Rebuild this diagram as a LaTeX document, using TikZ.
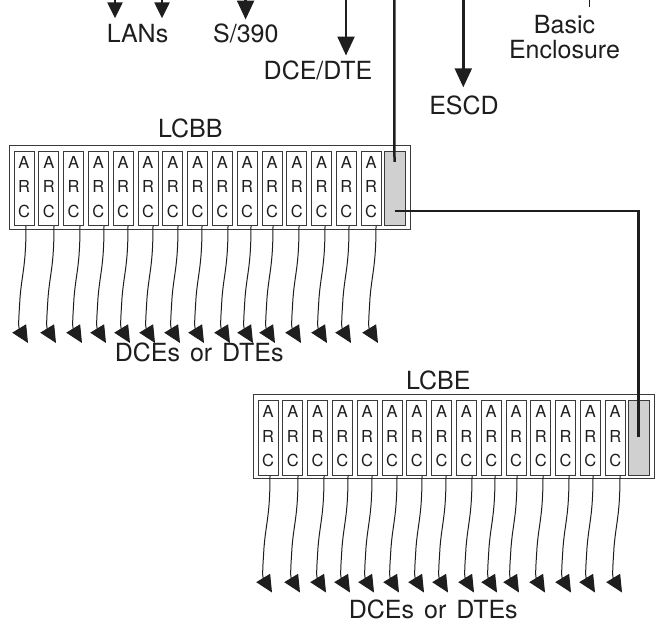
\documentclass[tikz,border=0pt]{standalone}
\usepackage{fontspec}
\setmainfont{TeX Gyre Heros}
\usetikzlibrary{arrows.meta}
\definecolor{boxc}{HTML}{3A3A3A}
\definecolor{grayc}{HTML}{D0D0D0}
\definecolor{inkc}{HTML}{1E1E1E}
\begin{document}
\begin{tikzpicture}[x=1pt,y=-1pt,
  lbl/.style={font=\fontsize{25}{30}\selectfont, text=inkc, inner sep=0pt, anchor=base},
  ltr/.style={font=\fontsize{16.5}{20}\selectfont, text=inkc, inner sep=0pt, anchor=base},
  boxo/.style={draw=boxc, line width=1pt, rectangle, inner sep=0pt, minimum width=401pt, minimum height=84pt},
  card/.style={draw=boxc, line width=1pt, rectangle, inner sep=0pt, minimum width=20pt, minimum height=74.5pt},
  gcard/.style={card, fill=grayc, minimum width=21pt},
  bigarrow/.style={draw=inkc, line width=2.4pt, -{Triangle[length=19pt,width=17pt]}},
  smallarrow/.style={draw=inkc, line width=2.4pt, -{Triangle[length=16pt,width=15pt]}},
  conn/.style={draw=inkc, line width=2.5pt},
  wavy/.style={draw=inkc, line width=1pt, -{Triangle[length=17pt,width=16pt]}},
  hair/.style={draw=inkc, line width=0.8pt}
]
\fill[white] (0,0) rectangle (658,624);
\useasboundingbox (0,0) rectangle (658,624);

% ---------- the two line-card blocks ----------
\foreach \p/\sx/\sy in {bb/0/0, be/244/249.5} {
  \begin{scope}[shift={(\sx,\sy)}]
    \node[boxo] (\p) at (209.5,187) {};
    \foreach \i in {0,...,14} {
      \node[card] (\p-c\i) at (24+24.8*\i,188.25) {};
      \node[ltr] (\p-a\i) at ([yshift=20.25pt]\p-c\i.center) {A};
      \node[ltr] (\p-r\i) at ([yshift=-4.25pt]\p-c\i.center) {R};
      \node[ltr] (\p-k\i) at ([yshift=-28.75pt]\p-c\i.center) {C};
    }
    \node[gcard] (\p-g) at (394.5,188.25) {};
  \end{scope}
}

% ---------- wavy arrows to DCEs or DTEs ----------
\foreach \p in {bb,be} {
  \foreach \i/\dx in {0/2,1/5.2,2/6.4,3/5.6,4/4.8,5/5,6/5.2,7/4.4,8/5.6,9/3.8,10/1,11/2.2,12/3.4,13/2.6,14/4.8} {
    \draw[wavy] ([xshift=\dx pt]\p-c\i.south) .. controls +(0,40) and +(2,-25) .. ++(-6,72)
                .. controls +(-1,17) and +(-10,-16.5) .. ++(8,45);
  }
}

% ---------- labels ----------
\node[lbl] (lans)   at (137.5,42.8) {LANs};
\node[lbl] (s390)   at (245.8,42.8) {S/390};
\node[lbl] (dcedte) at (318,79.6) {DCE/DTE};
\node[lbl] (escd)   at (464,114.6) {ESCD};
\node[lbl, anchor=north, align=center, font=\fontsize{25}{25}\selectfont] (enc) at (564.5,15) {Basic\\Enclosure};
\node[lbl] (lcbbl)  at (190.3,137.2) {LCBB};
\node[lbl] (lcbel)  at (438.3,389.6) {LCBE};
\node[lbl] (bbdce)  at (199.2,361) {DCEs\hspace{0.4em}or\hspace{0.4em}DTEs};
\node[lbl] (bedce)  at (433.3,618.5) {DCEs\hspace{0.4em}or\hspace{0.4em}DTEs};

% ---------- top arrows ----------
\coordinate (lan1s) at (115,0);     \coordinate (lan1e) at (115,18.3);
\coordinate (lan2s) at (162,0);     \coordinate (lan2e) at (162,18.3);
\coordinate (s390s) at (245.6,0);   \coordinate (s390e) at (245.6,19.5);
\coordinate (dces)  at (346,0);     \coordinate (dcee)  at (346,55.5);
\coordinate (escds) at (463.3,0);   \coordinate (escde) at (463.3,87.3);
\coordinate (encs)  at (589,0);     \coordinate (ence)  at (589,7);
\coordinate (tops)  at (394.3,0);

\draw[smallarrow] (lan1s) -- (lan1e);
\draw[smallarrow] (lan2s) -- (lan2e);
\draw[bigarrow] (s390s) -- (s390e);
\draw[bigarrow] (dces) -- (dcee);
\draw[bigarrow] (escds) -- (escde);
\draw[hair] (encs) -- (ence);

% ---------- connectors to the grey cards ----------
\draw[conn] (tops) -- ([yshift=26.5pt]bb-g.center);
\draw[conn] ([yshift=-22.75pt]bb-g.center) -| ([yshift=1.25pt]be-g.center);
\end{tikzpicture}
\end{document}
